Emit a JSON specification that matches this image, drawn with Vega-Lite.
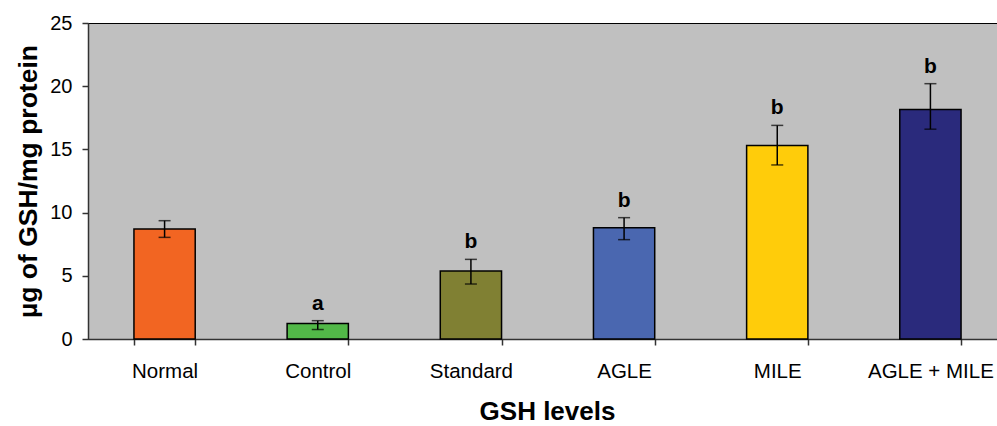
{
  "$schema": "https://vega.github.io/schema/vega-lite/v6.json",
  "autosize": "none",
  "width": 909,
  "height": 316,
  "padding": {"left": 88, "top": 23, "right": 0, "bottom": 87},
  "background": "white",
  "config": {
    "view": {"fill": "#C0C0C0", "stroke": "#000000", "strokeWidth": 1},
    "font": "Liberation Sans"
  },
  "data": {
    "values": [
      {"group": "Normal", "mean": 8.7, "lo": 8.04, "hi": 9.36, "sig": ""},
      {"group": "Control", "mean": 1.22, "lo": 0.75, "hi": 1.45, "sig": "a"},
      {"group": "Standard", "mean": 5.38, "lo": 4.35, "hi": 6.3, "sig": "b"},
      {"group": "AGLE", "mean": 8.8, "lo": 7.86, "hi": 9.6, "sig": "b"},
      {"group": "MILE", "mean": 15.3, "lo": 13.77, "hi": 16.9, "sig": "b"},
      {"group": "AGLE + MILE", "mean": 18.15, "lo": 16.6, "hi": 20.2, "sig": "b"}
    ]
  },
  "encoding": {
    "x": {
      "field": "group",
      "type": "nominal",
      "sort": null,
      "scale": {"range": [0, 919], "paddingInner": 0.6, "paddingOuter": 0.3},
      "axis": {
        "title": "GSH levels",
        "titleFont": "Liberation Sans",
        "titleFontSize": 26,
        "titleFontWeight": "bold",
        "titleColor": "#000000",
        "titlePadding": 17,
        "titleX": 459,
        "labelAngle": 0,
        "labelFontSize": 20.5,
        "labelColor": "#000000",
        "labelPadding": 16,
        "tickBand": "extent",
        "tickSize": 6,
        "tickColor": "#333333",
        "tickWidth": 1.5,
        "domainColor": "#333333",
        "domainWidth": 1.5,
        "grid": false
      }
    }
  },
  "layer": [
    {
      "mark": {"type": "bar", "stroke": "#000000", "strokeWidth": 1.5},
      "encoding": {
        "y": {
          "field": "mean",
          "type": "quantitative",
          "scale": {"domain": [0, 25], "nice": false},
          "axis": {
            "title": "µg of GSH/mg protein",
            "titleFontSize": 26.5,
            "titleFontWeight": "bold",
            "titleColor": "#000000",
            "titlePadding": 7,
            "values": [0, 5, 10, 15, 20, 25],
            "labelFontSize": 20,
            "labelColor": "#000000",
            "labelPadding": 10,
            "tickSize": 6,
            "tickColor": "#333333",
            "tickWidth": 1.5,
            "domainColor": "#333333",
            "domainWidth": 1.5,
            "grid": false
          }
        },
        "color": {
          "field": "group",
          "type": "nominal",
          "scale": {
            "domain": ["Normal", "Control", "Standard", "AGLE", "MILE", "AGLE + MILE"],
            "range": ["#F26522", "#52B848", "#808033", "#4A67B0", "#FFCC0A", "#2A2A7C"]
          },
          "legend": null
        }
      }
    },
    {
      "mark": {"type": "rule", "color": "#000000", "strokeWidth": 1.5},
      "encoding": {
        "y": {"field": "lo", "type": "quantitative"},
        "y2": {"field": "hi"}
      }
    },
    {
      "mark": {"type": "tick", "color": "#000000", "size": 12, "thickness": 1.5},
      "encoding": {"y": {"field": "lo", "type": "quantitative"}}
    },
    {
      "mark": {"type": "tick", "color": "#000000", "size": 12, "thickness": 1.5},
      "encoding": {"y": {"field": "hi", "type": "quantitative"}}
    },
    {
      "mark": {"type": "text", "fontSize": 21, "fontWeight": "bold", "baseline": "alphabetic", "dy": -11, "color": "#000000"},
      "encoding": {
        "y": {"field": "hi", "type": "quantitative"},
        "text": {"field": "sig"}
      }
    }
  ]
}
